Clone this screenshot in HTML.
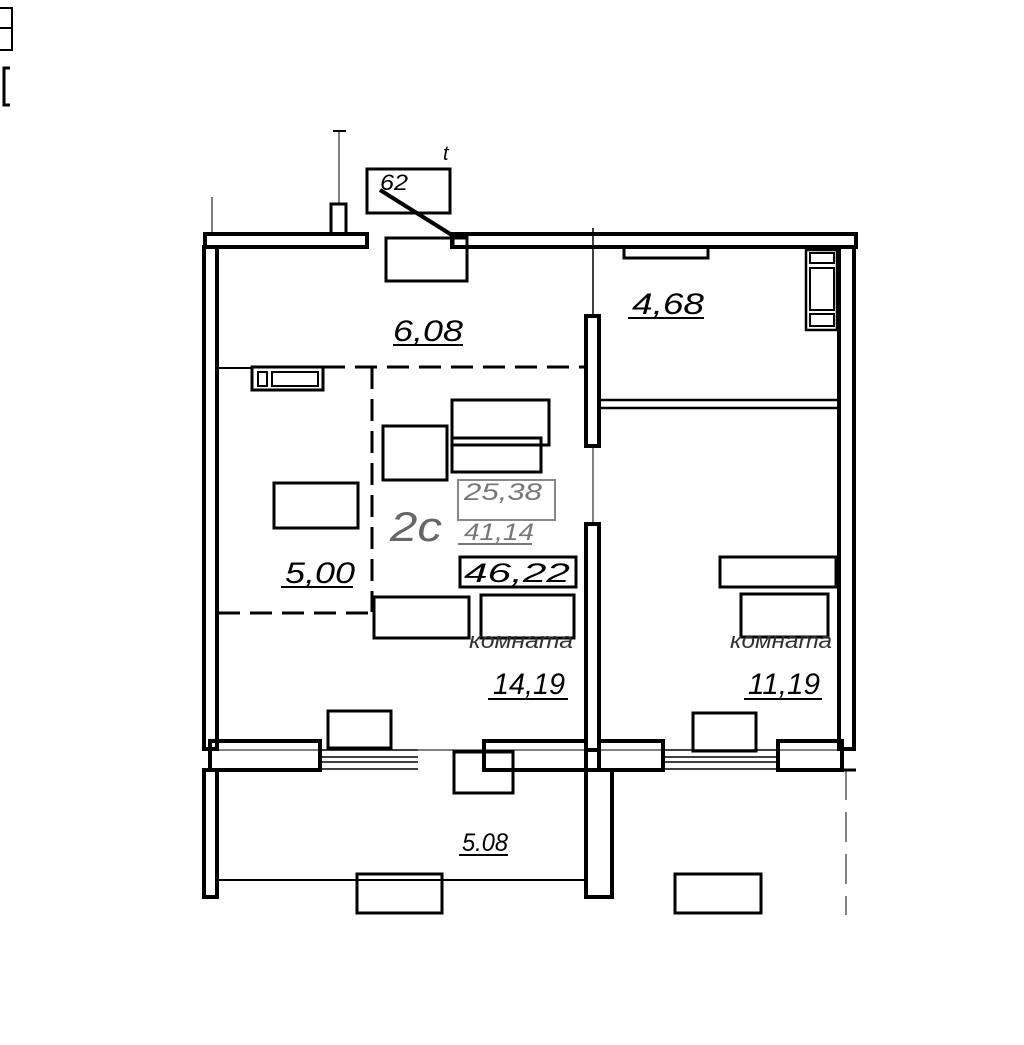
<!DOCTYPE html>
<html><head><meta charset="utf-8"><style>
html,body{margin:0;padding:0;background:#fff;}
svg{display:block}
text{font-family:"Liberation Sans","Noto Sans CJK JP",sans-serif;font-style:italic;}
</style></head><body>
<svg width="1024" height="1045" viewBox="0 0 1024 1045" xmlns="http://www.w3.org/2000/svg">
<g fill="none" stroke="#000" stroke-width="3">
<!-- corner marks -->
<path d="M0 8 H12 V50 H0 M0 28 H12" stroke-width="2"/>
<path d="M10 68 H4 V105 H10" stroke-width="3"/>
<!-- top wall -->
<rect x="205" y="234" width="162" height="13" stroke-width="4"/>
<rect x="452" y="234" width="404" height="13" stroke-width="4"/>
<rect x="453" y="235" width="14" height="12"/>
<line x1="212" y1="197" x2="212" y2="234" stroke-width="1"/>
<!-- vent -->
<rect x="331" y="204" width="15" height="30"/>
<line x1="339" y1="130" x2="339" y2="204" stroke-width="1"/>
<line x1="333" y1="131" x2="346" y2="131" stroke-width="2"/>
<!-- 62 box -->
<rect x="367" y="169" width="83" height="44"/>
<line x1="380" y1="190" x2="455" y2="237" stroke-width="4"/>
<!-- left wall -->
<rect x="204" y="247" width="13" height="502" stroke-width="4"/>
<!-- right wall -->
<rect x="839" y="247" width="15" height="502" stroke-width="4"/>
<!-- thin line top -->
<line x1="593" y1="228" x2="593" y2="315" stroke-width="1.5"/>
<!-- partition -->
<rect x="586" y="316" width="13" height="130" stroke-width="4"/>
<rect x="586" y="524" width="13" height="226" stroke-width="4"/>
<line x1="593" y1="446" x2="593" y2="524" stroke-width="1"/>
<!-- horizontal double line -->
<line x1="600" y1="400" x2="838" y2="400" stroke-width="2.5"/>
<line x1="600" y1="408" x2="838" y2="408" stroke-width="2.5"/>
<!-- dashed zone -->
<line x1="218" y1="368" x2="253" y2="368" stroke-width="2"/>
<rect x="252" y="367" width="71" height="23"/>
<rect x="258" y="372" width="9" height="14" stroke-width="2"/>
<rect x="272" y="372" width="46" height="14" stroke-width="2"/>
<line x1="323" y1="367" x2="585" y2="367" stroke-dasharray="22 10"/>
<line x1="372" y1="367" x2="372" y2="612" stroke-dasharray="22 10"/>
<line x1="218" y1="613" x2="372" y2="613" stroke-dasharray="22 10"/>
<!-- furniture rects -->
<rect x="386" y="238" width="81" height="43"/>
<rect x="624" y="247" width="84" height="11"/>
<rect x="806" y="250" width="31" height="80" stroke-width="2.5"/>
<rect x="810" y="253" width="24" height="10" stroke-width="2"/>
<rect x="810" y="268" width="24" height="42" stroke-width="2"/>
<rect x="810" y="314" width="24" height="12" stroke-width="2"/>
<rect x="452" y="400" width="97" height="45"/>
<rect x="383" y="426" width="64" height="54"/>
<rect x="452" y="438" width="89" height="34"/>
<rect x="274" y="483" width="84" height="45"/>
<rect x="458" y="480" width="97" height="40" stroke="#888" stroke-width="2"/>
<rect x="460" y="557" width="116" height="30"/>
<rect x="374" y="597" width="95" height="41"/>
<rect x="481" y="595" width="93" height="43"/>
<rect x="720" y="557" width="116" height="30"/>
<rect x="741" y="594" width="87" height="43"/>
<!-- bottom wall -->
<line x1="205" y1="750" x2="855" y2="750" stroke-width="1"/>
<rect x="210" y="741" width="110" height="29" stroke-width="4"/>
<line x1="320" y1="750" x2="418" y2="750" stroke-width="1.5"/>
<line x1="320" y1="757" x2="418" y2="757" stroke-width="1.5"/>
<line x1="320" y1="762" x2="418" y2="762" stroke-width="1.5"/>
<line x1="320" y1="769" x2="418" y2="769" stroke-width="1.5"/>
<rect x="484" y="741" width="102" height="29" stroke-width="4"/>
<rect x="599" y="741" width="64" height="29" stroke-width="4"/>
<line x1="663" y1="750" x2="777" y2="750" stroke-width="1.5"/>
<line x1="663" y1="757" x2="777" y2="757" stroke-width="1.5"/>
<line x1="663" y1="762" x2="777" y2="762" stroke-width="1.5"/>
<line x1="663" y1="769" x2="777" y2="769" stroke-width="1.5"/>
<rect x="778" y="741" width="64" height="29" stroke-width="4"/>
<line x1="842" y1="770" x2="856" y2="770" stroke-width="3"/>
<rect x="328" y="711" width="63" height="37"/>
<rect x="693" y="713" width="63" height="38"/>
<rect x="454" y="752" width="59" height="41"/>
<!-- balcony -->
<rect x="204" y="770" width="13" height="127" stroke-width="4"/>
<rect x="586" y="770" width="26" height="127" stroke-width="4"/>
<line x1="218" y1="880" x2="586" y2="880" stroke-width="2"/>
<rect x="357" y="874" width="85" height="39"/>
<rect x="675" y="874" width="86" height="39"/>
<line x1="846" y1="770" x2="846" y2="915" stroke-width="1" stroke-dasharray="30 12"/>
</g>
<g fill="#000">
<text x="393" y="341" font-size="30" textLength="70" lengthAdjust="spacingAndGlyphs">6,08</text>
<line x1="393" y1="345" x2="463" y2="345" stroke="#000" stroke-width="2"/>
<text x="632" y="314" font-size="30" textLength="72" lengthAdjust="spacingAndGlyphs">4,68</text>
<line x1="628" y1="318" x2="704" y2="318" stroke="#000" stroke-width="2"/>
<text x="285" y="583" font-size="30" textLength="70" lengthAdjust="spacingAndGlyphs">5,00</text>
<line x1="281" y1="587" x2="353" y2="587" stroke="#000" stroke-width="2"/>
<text x="380" y="20" font-size="22" transform="translate(0,170)" textLength="28" lengthAdjust="spacingAndGlyphs">62</text>
<text x="443" y="160" font-size="20">t</text>
<text x="390" y="541" font-size="42" fill="#666" textLength="52" lengthAdjust="spacingAndGlyphs">2c</text>
<text x="464" y="500" font-size="24" fill="#777" textLength="78" lengthAdjust="spacingAndGlyphs">25,38</text>
<text x="464" y="540" font-size="24" fill="#777" textLength="70" lengthAdjust="spacingAndGlyphs">41,14</text>
<line x1="458" y1="544" x2="532" y2="544" stroke="#777" stroke-width="2"/>
<text x="464" y="582" font-size="27" textLength="106" lengthAdjust="spacingAndGlyphs">46,22</text>
<text x="469" y="648" font-size="22" fill="#333" textLength="104" lengthAdjust="spacingAndGlyphs">комната</text>
<text x="493" y="694" font-size="30" textLength="72" lengthAdjust="spacingAndGlyphs">14,19</text>
<line x1="488" y1="699" x2="568" y2="699" stroke="#000" stroke-width="2"/>
<text x="730" y="648" font-size="22" fill="#333" textLength="102" lengthAdjust="spacingAndGlyphs">комната</text>
<text x="748" y="694" font-size="30" textLength="72" lengthAdjust="spacingAndGlyphs">11,19</text>
<line x1="744" y1="699" x2="822" y2="699" stroke="#000" stroke-width="2"/>
<text x="462" y="851" font-size="25" textLength="46" lengthAdjust="spacingAndGlyphs">5.08</text>
<line x1="459" y1="855" x2="508" y2="855" stroke="#000" stroke-width="2"/>
</g>
</svg>
</body></html>
